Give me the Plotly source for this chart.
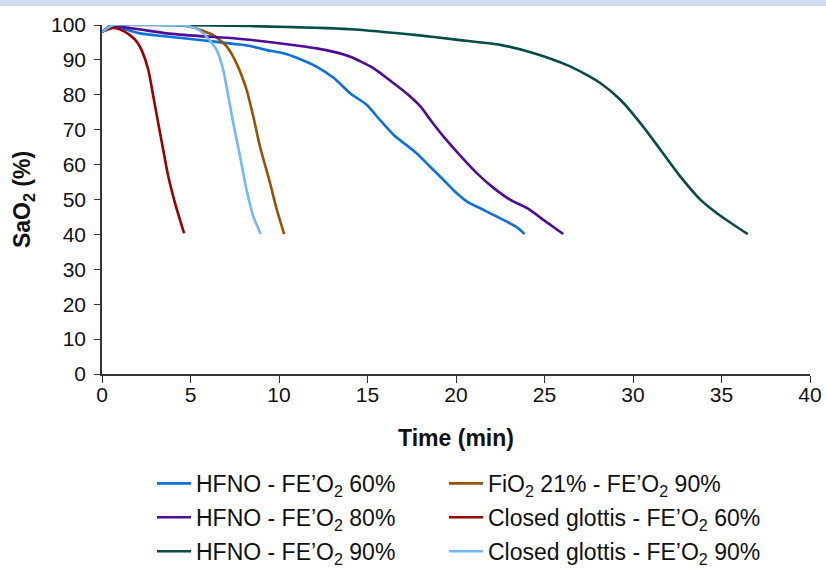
import plotly.graph_objects as go

# HFNO - FE'O2 60%
t_hfno60 = [0.0, 0.64, 2.15, 3.66, 5.54, 7.43, 8.37, 9.31, 10.25, 11.2, 12.14, 13.1, 14.03, 14.97, 15.7, 16.48, 17.79, 18.5, 19.3, 20.0, 20.62, 21.57, 22.7, 23.45, 23.87]
s_hfno60 = [98.0, 99.5, 97.6, 96.7, 95.7, 94.6, 94.0, 92.8, 91.9, 90.2, 88.0, 84.8, 80.4, 77.1, 72.8, 68.5, 63.2, 59.6, 55.6, 52.0, 49.4, 47.0, 44.1, 42.0, 40.1]

# HFNO - FE'O2 80%
t_hfno80 = [0.0, 0.6, 1.77, 3.66, 5.54, 7.43, 9.31, 11.2, 12.14, 13.1, 14.03, 15.35, 16.48, 17.3, 18.0, 18.6, 19.3, 20.2, 21.19, 22.1, 23.07, 24.02, 24.96, 26.06]
s_hfno80 = [98.0, 99.6, 99.0, 97.6, 96.8, 96.2, 95.2, 94.0, 93.3, 92.3, 90.9, 87.6, 83.3, 80.0, 76.6, 72.5, 68.0, 62.8, 57.5, 53.4, 49.9, 47.5, 44.1, 40.1]

# HFNO - FE'O2 90%
t_hfno90 = [0.0, 0.6, 4.0, 8.37, 14.03, 17.79, 20.0, 22.5, 24.4, 26.28, 27.2, 28.17, 29.3, 30.43, 31.56, 32.69, 33.82, 34.76, 35.7, 36.48]
s_hfno90 = [98.0, 100.0, 100.0, 99.7, 98.8, 97.1, 95.8, 94.3, 91.9, 88.5, 86.2, 83.3, 78.5, 71.8, 64.2, 56.5, 49.9, 46.0, 42.7, 40.1]

# FiO2 21% - FE'O2 90%
t_fio221 = [0.0, 0.6, 2.0, 4.0, 5.0, 6.29, 7.05, 7.6, 8.17, 8.55, 8.93, 9.5, 9.88, 10.29]
s_fio221 = [98.0, 100.0, 100.0, 100.0, 99.5, 97.1, 93.8, 89.0, 81.4, 73.7, 65.1, 54.6, 47.0, 40.1]

# Closed glottis - FE'O2 60%
t_cg60 = [0.0, 0.55, 1.0, 1.58, 2.0, 2.24, 2.62, 2.9, 3.18, 3.46, 3.75, 4.13, 4.64]
s_cg60 = [98.1, 99.1, 98.8, 97.1, 95.0, 92.8, 87.1, 79.5, 71.8, 64.2, 56.5, 48.9, 40.3]

# Closed glottis - FE'O2 90%
t_cg90 = [0.0, 0.64, 2.0, 4.0, 4.97, 5.5, 5.91, 6.48, 6.85, 7.14, 7.42, 7.8, 8.17, 8.55, 8.97]
s_cg90 = [98.0, 100.0, 100.0, 100.0, 99.6, 98.5, 96.6, 92.8, 87.1, 79.5, 71.8, 62.3, 52.7, 45.1, 40.1]

x_ticks = [0, 5, 10, 15, 20, 25, 30, 35, 40]
y_ticks = [0, 10, 20, 30, 40, 50, 60, 70, 80, 90, 100]

FE = "FE\u2019O<sub>2</sub>"
series = [
    ("HFNO - " + FE + " 60%", t_hfno60, s_hfno60, "#0a72dc", "legend"),
    ("FiO<sub>2</sub> 21% - " + FE + " 90%", t_fio221, s_fio221, "#9c5200", "legend2"),
    ("HFNO - " + FE + " 80%", t_hfno80, s_hfno80, "#4f0c98", "legend"),
    ("Closed glottis - " + FE + " 60%", t_cg60, s_cg60, "#9a0000", "legend2"),
    ("HFNO - " + FE + " 90%", t_hfno90, s_hfno90, "#064c48", "legend"),
    ("Closed glottis - " + FE + " 90%", t_cg90, s_cg90, "#72b8fc", "legend2"),
]

fig = go.Figure()
for i, (name, xs, ys, col, lg) in enumerate(series):
    fig.add_trace(go.Scatter(
        x=xs, y=ys, name=name, mode="lines",
        line=dict(color=col, width=2.6, shape="spline", smoothing=0.6),
        cliponaxis=False, legend=lg, legendgroup="g%d" % i,
    ))

font_family = "Liberation Sans, Arial, sans-serif"
fig.update_layout(
    width=826, height=568,
    margin=dict(l=102, r=16, t=25, b=194, autoexpand=False),
    paper_bgcolor="white", plot_bgcolor="white",
    font=dict(family=font_family, size=21, color="#111111"),
    showlegend=True,
    xaxis=dict(
        range=[0, 40], tickvals=x_ticks, ticks="outside", ticklen=7, tickwidth=1.3,
        tickcolor="#333333", showline=True, linecolor="#333333", linewidth=1.5,
        showgrid=False, zeroline=False, automargin=False,
        tickfont=dict(size=21), ticklabelstandoff=-6,
        title=dict(text="<b>Time (min)</b>", font=dict(size=23), standoff=25),
    ),
    yaxis=dict(
        range=[0, 100], tickvals=y_ticks, ticks="outside", ticklen=6, tickwidth=1.3,
        tickcolor="#333333", showline=True, linecolor="#333333", linewidth=1.5,
        showgrid=False, zeroline=False, automargin=False,
        tickfont=dict(size=21), ticklabelstandoff=4,
        title=dict(text="<b>SaO<sub>2</sub> (%)</b>", font=dict(size=23), standoff=14),
    ),
    legend=dict(
        x=0.0706, y=-0.252, xanchor="left", yanchor="top", orientation="v",
        font=dict(size=23), tracegroupgap=1, itemwidth=34, bgcolor="rgba(0,0,0,0)",
    ),
    legend2=dict(
        x=0.483, y=-0.252, xanchor="left", yanchor="top", orientation="v",
        font=dict(size=23), tracegroupgap=1, itemwidth=34, bgcolor="rgba(0,0,0,0)",
    ),
    shapes=[dict(
        type="rect", xref="paper", yref="paper",
        x0=-102 / 708, x1=1 + 16 / 708, y0=1 + 19.0 / 349, y1=1 + 25 / 349,
        fillcolor="#d3dcef", line=dict(width=0), layer="above",
    )],
)

fig.write_html("out.html", config={"displayModeBar": False},
               post_script="document.body.style.margin='0';")
